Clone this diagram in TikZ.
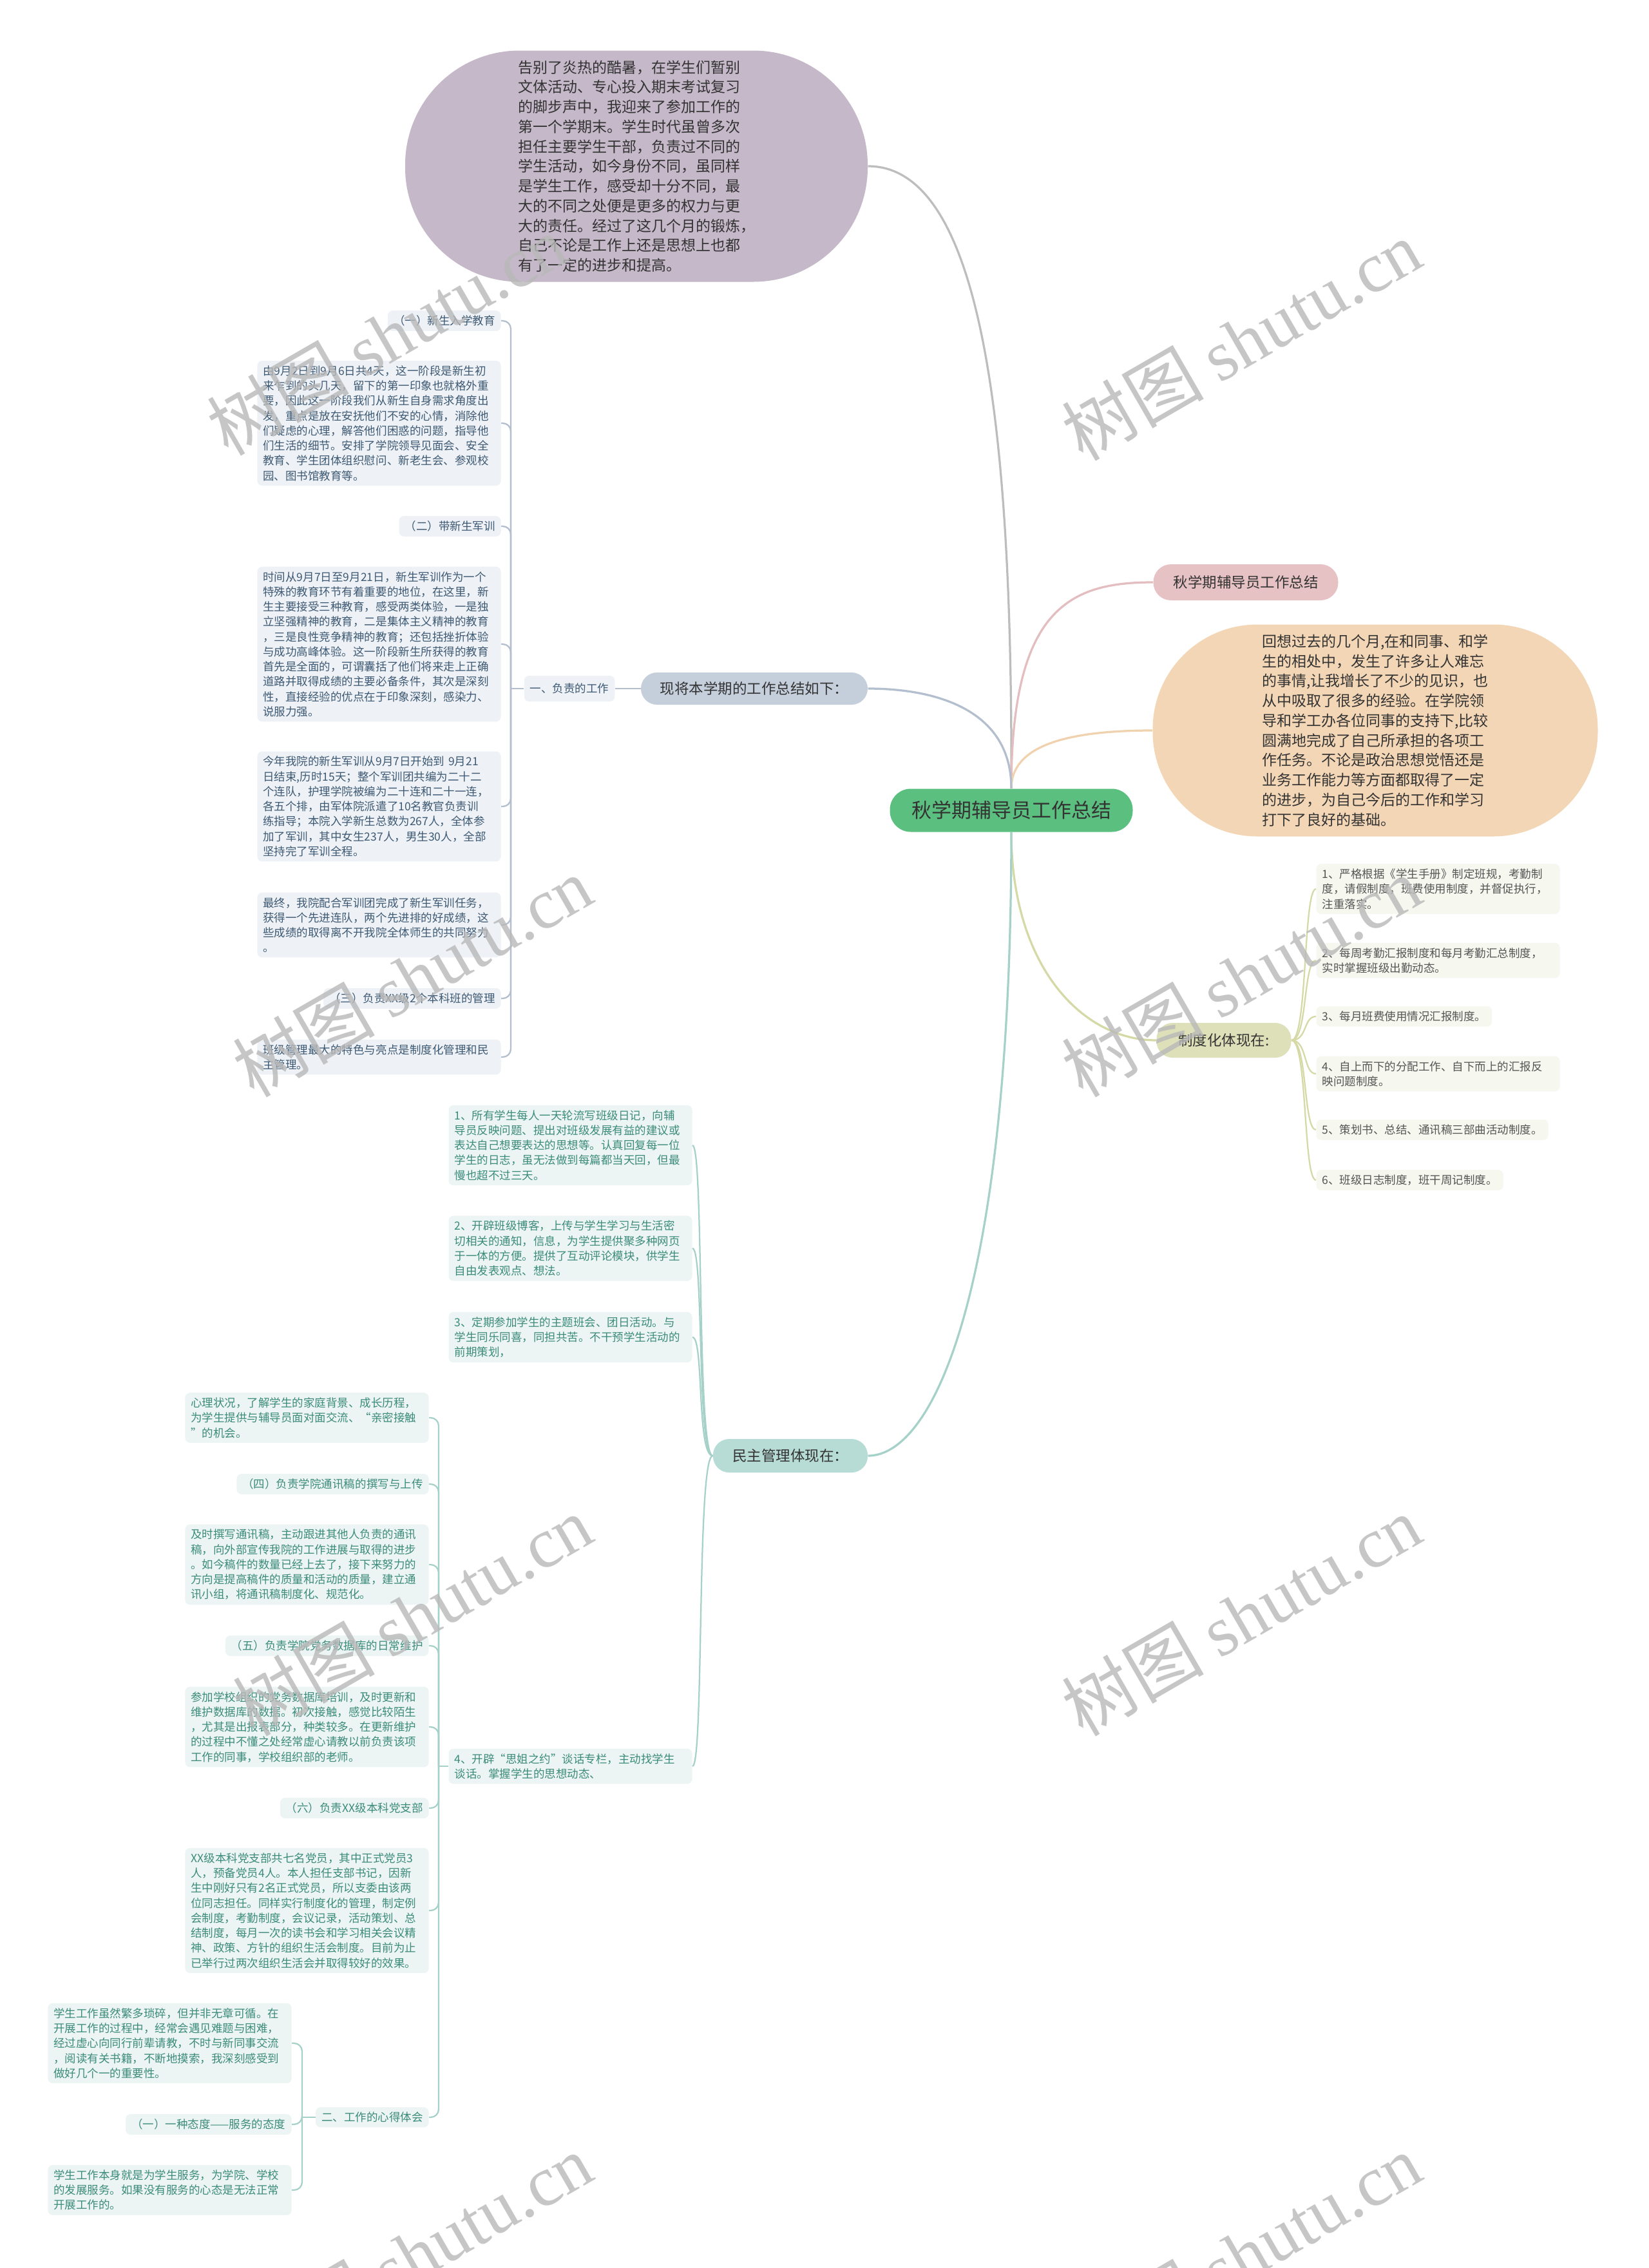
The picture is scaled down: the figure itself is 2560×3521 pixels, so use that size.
\documentclass[tikz,border=0pt]{standalone}
\usepackage{fontspec}
\setmainfont{Noto Sans CJK SC}
\newfontfamily\marklatin{Liberation Serif}
\usetikzlibrary{positioning}
\definecolor{rootfill}{HTML}{5BBF7F}
\definecolor{purplefill}{HTML}{C5B8C9}
\definecolor{pinkfill}{HTML}{E6C2C4}
\definecolor{orangefill}{HTML}{F3D6B5}
\definecolor{olivefill}{HTML}{DDE0B8}
\definecolor{slatefill}{HTML}{C5CFDC}
\definecolor{tealfill}{HTML}{B7DCD5}
\definecolor{darktext}{HTML}{333333}
\definecolor{slatebox}{HTML}{EEF2F6}
\definecolor{slatetext}{HTML}{3E5973}
\definecolor{olivebox}{HTML}{F6F7EF}
\definecolor{olivetext}{HTML}{555555}
\definecolor{tealbox}{HTML}{EDF5F4}
\definecolor{tealtext}{HTML}{3B8B7B}
\definecolor{graylink}{HTML}{BDBDBD}
\definecolor{pinklink}{HTML}{E3BDBF}
\definecolor{orangelink}{HTML}{F0D2AE}
\definecolor{olivelink}{HTML}{D5D9A6}
\definecolor{slatelink}{HTML}{B3BFCE}
\definecolor{teallink}{HTML}{A6D1C9}
\tikzset{root/.style={fill=rootfill,rounded corners=13pt,minimum width=150.8pt,minimum height=26.8pt,text=darktext,font=\fontsize{12.4}{14}\selectfont},topic/.style={rounded corners=10pt,minimum height=20pt,inner xsep=8pt,text=darktext,font=\fontsize{9}{11}\selectfont},bubble/.style={align=left,text=darktext,font=\fontsize{9.2}{12.3}\selectfont},leaf/.style={rounded corners=3pt,align=left,inner xsep=3.6pt,inner ysep=3pt,font=\fontsize{7}{9.3}\selectfont},para/.style={leaf,text width=144pt},slateleaf/.style={fill=slatebox,text=slatetext},oliveleaf/.style={fill=olivebox,text=olivetext},tealleaf/.style={fill=tealbox,text=tealtext},link/.style={line width=1.3pt},twig/.style={line width=0.9pt,rounded corners=5pt},wmark/.style={rotate=30,text=black!28,opacity=0.8,font=\fontsize{44}{44}\selectfont}}

\begin{document}
\begin{tikzpicture}[x=0.4pt,y=-0.4pt]
\useasboundingbox (0,0) rectangle (2560,3521);
\fill[white] (0,0) rectangle (2560,3521);
% central topic and main branches
\node[root] (root) at (1570,1258) {秋学期辅导员工作总结};
\node[bubble,fill=purplefill,rounded corners=71pt,minimum width=287.2pt,minimum height=143.6pt] (intro) at (988,258) {告别了炎热的酷暑，在学生们暂别\\文体活动、专心投入期末考试复习\\的脚步声中，我迎来了参加工作的\\第一个学期末。学生时代虽曾多次\\担任主要学生干部，负责过不同的\\学生活动，如今身份不同，虽同样\\是学生工作，感受却十分不同，最\\大的不同之处便是更多的权力与更\\大的责任。经过了这几个月的锻炼，\\自己不论是工作上还是思想上也都\\有了一定的进步和提高。};
\node[topic,fill=pinkfill,minimum width=114.8pt,minimum height=22.4pt,rounded corners=11pt] (title) at (1934,904) {秋学期辅导员工作总结};
\node[bubble,fill=orangefill,rounded corners=65pt,minimum width=276.4pt,minimum height=131.6pt] (review) at (2135,1134) {回想过去的几个月,在和同事、和学\\生的相处中，发生了许多让人难忘\\的事情,让我增长了不少的见识，也\\从中吸取了很多的经验。在学院领\\导和学工办各位同事的支持下,比较\\圆满地完成了自己所承担的各项工\\作任务。不论是政治思想觉悟还是\\业务工作能力等方面都取得了一定\\的进步，为自己今后的工作和学习\\打下了良好的基础。};
\node[topic,fill=olivefill,minimum width=83.6pt,minimum height=21.6pt] (rules) at (1900,1615) {制度化体现在:};
\node[topic,fill=slatefill,minimum width=140.8pt] (work) at (1171,1069) {现将本学期的工作总结如下：};
\node[topic,fill=tealfill,minimum width=96pt,minimum height=20.8pt] (demo) at (1227,2260) {民主管理体现在：};
\draw[link,draw=graylink] (root.north) .. controls (1572,674) and (1527,258) .. (intro.east);
\draw[link,draw=pinklink] (root.north) .. controls (1570,943) and (1662,904) .. (title.west);
\draw[link,draw=orangelink] (root.north) .. controls (1570,1160) and (1650,1134) .. (review.west);
\draw[link,draw=olivelink] (root.south) .. controls (1570,1500) and (1680,1615) .. (rules.west);
\draw[link,draw=slatelink] (root.north) .. controls (1570,1100) and (1450,1069) .. (work.east);
\draw[link,draw=teallink] (root.south) .. controls (1570,2000) and (1450,2260) .. (demo.east);

% work done this term
\node[leaf,slateleaf,minimum height=16pt] (duty) at (884,1069) {一、负责的工作};
\node[leaf,slateleaf,anchor=east] (s1) at (778,498) {（一）新生入学教育};
\node[para,slateleaf,anchor=east] (s2) at (778,657) {由9月2日到9月6日共4天，这一阶段是新生初\\来乍到的头几天，留下的第一印象也就格外重\\要，因此这一阶段我们从新生自身需求角度出\\发，重点是放在安抚他们不安的心情，消除他\\们疑虑的心理，解答他们困惑的问题，指导他\\们生活的细节。安排了学院领导见面会、安全\\教育、学生团体组织慰问、新老生会、参观校\\园、图书馆教育等。};
\node[leaf,slateleaf,anchor=east] (s3) at (778,817) {（二）带新生军训};
\node[para,slateleaf,anchor=east] (s4) at (778,1000) {时间从9月7日至9月21日，新生军训作为一个\\特殊的教育环节有着重要的地位，在这里，新\\生主要接受三种教育，感受两类体验，一是独\\立坚强精神的教育，二是集体主义精神的教育\\，三是良性竞争精神的教育；还包括挫折体验\\与成功高峰体验。这一阶段新生所获得的教育\\首先是全面的，可谓囊括了他们将来走上正确\\道路并取得成绩的主要必备条件，其次是深刻\\性，直接经验的优点在于印象深刻，感染力、\\说服力强。};
\node[para,slateleaf,anchor=east] (s5) at (778,1252) {今年我院的新生军训从9月7日开始到 9月21\\日结束,历时15天；整个军训团共编为二十二\\个连队，护理学院被编为二十连和二十一连，\\各五个排，由军体院派遣了10名教官负责训\\练指导；本院入学新生总数为267人，全体参\\加了军训，其中女生237人，男生30人，全部\\坚持完了军训全程。};
\node[para,slateleaf,anchor=east] (s6) at (778,1436) {最终，我院配合军训团完成了新生军训任务，\\获得一个先进连队，两个先进排的好成绩，这\\些成绩的取得离不开我院全体师生的共同努力\\。};
\node[leaf,slateleaf,anchor=east] (s7) at (778,1550) {（三）负责XX级2个本科班的管理};
\node[para,slateleaf,anchor=east] (s8) at (778,1641) {班级管理最大的特色与亮点是制度化管理和民\\主管理。};
\coordinate (dutyjoint) at (793,1069);
\draw[twig,draw=slatelink] (work.west) -- (duty.east);
\draw[twig,draw=slatelink] (duty.west) -- (dutyjoint);
\foreach \i in {1,...,8}{\draw[twig,draw=slatelink] (dutyjoint) |- (s\i.east);}

% rules
\node[para,oliveleaf,anchor=west] (r1) at (2043,1380) {1、严格根据《学生手册》制定班规，考勤制\\度，请假制度，班费使用制度，并督促执行，\\注重落实。};
\node[para,oliveleaf,anchor=west] (r2) at (2043,1491) {2、每周考勤汇报制度和每月考勤汇总制度，\\实时掌握班级出勤动态。};
\node[leaf,oliveleaf,anchor=west] (r3) at (2043,1578) {3、每月班费使用情况汇报制度。};
\node[para,oliveleaf,anchor=west] (r4) at (2043,1667) {4、自上而下的分配工作、自下而上的汇报反\\映问题制度。};
\node[leaf,oliveleaf,anchor=west] (r5) at (2043,1754) {5、策划书、总结、通讯稿三部曲活动制度。};
\node[leaf,oliveleaf,anchor=west] (r6) at (2043,1832) {6、班级日志制度，班干周记制度。};
\foreach \i in {1,...,6}{\draw[line width=0.9pt,draw=olivelink] (rules.east) .. controls +(25,0) and +(-20,0) .. (r\i.west);}

% democratic management
\node[para,tealleaf,anchor=east] (d1) at (1075,1778) {1、所有学生每人一天轮流写班级日记，向辅\\导员反映问题、提出对班级发展有益的建议或\\表达自己想要表达的思想等。认真回复每一位\\学生的日志，虽无法做到每篇都当天回，但最\\慢也超不过三天。};
\node[para,tealleaf,anchor=east] (d2) at (1075,1938) {2、开辟班级博客，上传与学生学习与生活密\\切相关的通知，信息，为学生提供聚多种网页\\于一体的方便。提供了互动评论模块，供学生\\自由发表观点、想法。};
\node[para,tealleaf,anchor=east] (d3) at (1075,2076) {3、定期参加学生的主题班会、团日活动。与\\学生同乐同喜，同担共苦。不干预学生活动的\\前期策划，};
\node[para,tealleaf,anchor=east] (d4) at (1075,2742) {4、开辟“思姐之约”谈话专栏，主动找学生\\谈话。掌握学生的思想动态、};
\foreach \i in {1,...,4}{\draw[line width=0.9pt,draw=teallink] (demo.west) .. controls +(-25,0) and +(18,0) .. (d\i.east);}

\node[para,tealleaf,anchor=east] (p1) at (666,2201) {心理状况，了解学生的家庭背景、成长历程，\\为学生提供与辅导员面对面交流、“亲密接触\\”的机会。};
\node[leaf,tealleaf,anchor=east] (p2) at (666,2304) {（四）负责学院通讯稿的撰写与上传};
\node[para,tealleaf,anchor=east] (p3) at (666,2429) {及时撰写通讯稿，主动跟进其他人负责的通讯\\稿，向外部宣传我院的工作进展与取得的进步\\。如今稿件的数量已经上去了，接下来努力的\\方向是提高稿件的质量和活动的质量，建立通\\讯小组，将通讯稿制度化、规范化。};
\node[leaf,tealleaf,anchor=east] (p4) at (666,2555) {（五）负责学院党务数据库的日常维护};
\node[para,tealleaf,anchor=east] (p5) at (666,2681) {参加学校组织的党务数据库培训，及时更新和\\维护数据库的数据。初次接触，感觉比较陌生\\，尤其是出报表部分，种类较多。在更新维护\\的过程中不懂之处经常虚心请教以前负责该项\\工作的同事，学校组织部的老师。};
\node[leaf,tealleaf,anchor=east] (p6) at (666,2807) {（六）负责XX级本科党支部};
\node[para,tealleaf,anchor=east] (p7) at (666,2966) {XX级本科党支部共七名党员，其中正式党员3\\人，预备党员4人。本人担任支部书记，因新\\生中刚好只有2名正式党员，所以支委由该两\\位同志担任。同样实行制度化的管理，制定例\\会制度，考勤制度，会议记录，活动策划、总\\结制度，每月一次的读书会和学习相关会议精\\神、政策、方针的组织生活会制度。目前为止\\已举行过两次组织生活会并取得较好的效果。};
\node[leaf,tealleaf,anchor=east] (p8) at (666,3287) {二、工作的心得体会};
\coordinate (talkjoint) at (681,2742);
\draw[twig,draw=teallink] (d4.west) -- (talkjoint);
\foreach \i in {1,...,8}{\draw[twig,draw=teallink] (talkjoint) |- (p\i.east);}

\node[para,tealleaf,anchor=east] (e1) at (453,3172) {学生工作虽然繁多琐碎，但并非无章可循。在\\开展工作的过程中，经常会遇见难题与困难，\\经过虚心向同行前辈请教，不时与新同事交流\\，阅读有关书籍，不断地摸索，我深刻感受到\\做好几个一的重要性。};
\node[leaf,tealleaf,anchor=east] (e2) at (453,3298) {（一）一种态度——服务的态度};
\node[para,tealleaf,anchor=east] (e3) at (453,3400) {学生工作本身就是为学生服务，为学院、学校\\的发展服务。如果没有服务的心态是无法正常\\开展工作的。};
\coordinate (gainjoint) at (469,3287);
\draw[twig,draw=teallink] (p8.west) -- (gainjoint);
\foreach \i in {1,...,3}{\draw[twig,draw=teallink] (gainjoint) |- (e\i.east);}

% watermark
\foreach \i/\wx/\wy in {1/600/520,2/1927/528,3/640/1516,4/1927/1516,5/640/2508,6/1927/2508,7/640/3499,8/1927/3499}{\node[wmark] (wm\i) at (\wx,\wy) {树图 {\marklatin shutu.cn}};}
\end{tikzpicture}
\end{document}
